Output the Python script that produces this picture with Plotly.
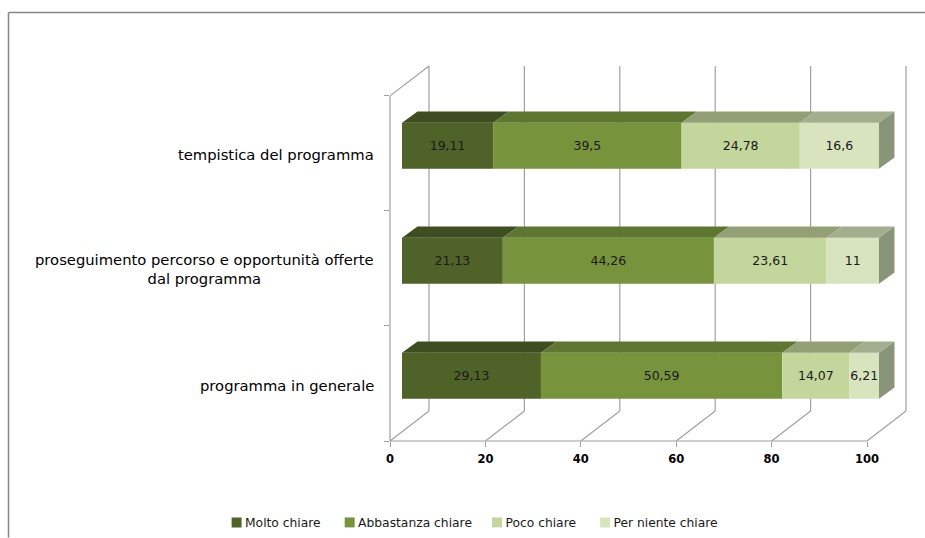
import plotly.graph_objects as go

categories = ["programma in generale",
              "proseguimento percorso e opportunità offerte<br>dal programma",
              "tempistica del programma"]
series_names = ["Molto chiare\u00a0", "Abbastanza chiare", "Poco chiare\u00a0", "Per niente chiare"]
molto = [29.13, 21.13, 19.11]
abbastanza = [50.59, 44.26, 39.5]
poco = [14.07, 23.61, 24.78]
per_niente = [6.21, 11, 16.6]
label_molto = ["29,13", "21,13", "19,11"]
label_abbastanza = ["50,59", "44,26", "39,5"]
label_poco = ["14,07", "23,61", "24,78"]
label_per_niente = ["6,21", "11", "16,6"]
x_ticks = [0, 20, 40, 60, 80, 100]

front_colors = ["#4f6228", "#77933c", "#c3d69b", "#d7e4bd"]
top_colors = ["#3f4e20", "#5f7630", "#93a076", "#a3ae8e"]
side_color = "#8a9478"
wall_color = "#a0a0a0"
FONT = "DejaVu Sans"

W, H = 925, 538
X0, X100, Y3, Y0 = 390, 867, 96, 441.5   # front plane of the 3-D box, in pixels
px_x = (X100 - X0) / 100
px_y = (Y0 - Y3) / 3
x_max = (W - X0) / px_x
y_max = Y0 / px_y
BAR_H = 46 / px_y
wall_dx, wall_dy = 39 / px_x, 30 / px_y
bar_dx, bar_dy = 12 / px_x, 7.7 / px_y
top_dx, top_dy = 15.5 / px_x, 11.3 / px_y

fig = go.Figure()
all_vals = [molto, abbastanza, poco, per_niente]
all_labels = [label_molto, label_abbastanza, label_poco, label_per_niente]
cum = [0.0, 0.0, 0.0]
centres = [i + 0.5 + bar_dy for i in range(3)]

for s, vals in enumerate(all_vals):
    xs, ys = [], []
    for c, v, yc in zip(cum, vals, centres):
        x0, x1 = c + bar_dx, c + v + bar_dx
        yt = yc + BAR_H / 2
        xs += [x0, x1, x1 + top_dx, x0 + top_dx, x0, None]
        ys += [yt, yt, yt + top_dy, yt + top_dy, yt, None]
    fig.add_trace(go.Scatter(x=xs, y=ys, mode="lines", fill="toself", fillcolor=top_colors[s],
                             line=dict(width=0, color=top_colors[s]), showlegend=False,
                             hoverinfo="skip"))
    fig.add_trace(go.Bar(y=centres, x=vals, base=[c + bar_dx for c in cum], orientation="h",
                         width=BAR_H, name=series_names[s],
                         marker=dict(color=front_colors[s], line=dict(width=0)),
                         text=all_labels[s], textposition="inside", insidetextanchor="middle",
                         textangle=0,
                         textfont=dict(family=FONT, size=12.5, color="#1a1a1a")))
    cum = [c + v for c, v in zip(cum, vals)]

xs, ys = [], []
for c, yc in zip(cum, centres):
    x1 = c + bar_dx
    yt, yb = yc + BAR_H / 2, yc - BAR_H / 2
    xs += [x1, x1 + top_dx, x1 + top_dx, x1, x1, None]
    ys += [yt, yt + top_dy, yb + top_dy, yb, yt, None]
fig.add_trace(go.Scatter(x=xs, y=ys, mode="lines", fill="toself", fillcolor=side_color,
                         line=dict(width=0, color=side_color), showlegend=False,
                         hoverinfo="skip"))

fx = lambda p: (p - X0) / (W - X0)
fy = lambda p: (Y0 - p) / Y0
line = dict(color=wall_color, width=1.2)
shapes = []
def seg(x0, y0, x1, y1):
    shapes.append(dict(type="line", xref="paper", yref="paper", layer="below",
                       x0=x0 / x_max, y0=y0 / y_max, x1=x1 / x_max, y1=y1 / y_max, line=line))
for t in x_ticks:
    seg(t, 0, t + wall_dx, wall_dy)
    seg(t + wall_dx, wall_dy, t + wall_dx, 3 + wall_dy)
seg(0, 3, wall_dx, 3 + wall_dy)
seg(0, 0, 0, 3)
seg(0, 0, 100, 0)

frame = dict(color="#868686", width=1.5)
shapes.append(dict(type="line", xref="paper", yref="paper", x0=fx(8.5), x1=fx(8.5), y0=fy(538), y1=fy(12.5), line=frame))
shapes.append(dict(type="line", xref="paper", yref="paper", x0=fx(8.5), x1=fx(925), y0=fy(12.5), y1=fy(12.5), line=frame))

annotations = []
label_offsets = [-2, -1, -1]
for i, cat in enumerate(categories):
    annotations.append(dict(xref="paper", yref="y", x=fx(375.5), y=i + 0.5 + label_offsets[i] / px_y,
                            xanchor="right", yanchor="middle", align="center", showarrow=False,
                            text=cat, font=dict(family=FONT, size=14.75, color="#000000")))

fig.update_layout(
    width=W, height=H, autosize=False, barmode="overlay", showlegend=True,
    margin=dict(l=X0, r=0, t=0, b=H - Y0, pad=0, autoexpand=False),
    paper_bgcolor="white", plot_bgcolor="rgba(0,0,0,0)",
    shapes=shapes, annotations=annotations,
    uniformtext=dict(mode="show", minsize=12.5),
    legend=dict(orientation="h", x=fx(216.5), xanchor="left", y=fy(523), yanchor="middle",
                font=dict(family=FONT, size=12.3, color="#1a1a1a"), traceorder="normal",
                itemwidth=30, indentation=-11.5, bgcolor="rgba(0,0,0,0)"),
    xaxis=dict(range=[0, x_max], tickvals=x_ticks, ticks="outside", ticklen=5, tickcolor=wall_color,
               showgrid=False, zeroline=False, showline=False, ticklabelstandoff=2,
               tickfont=dict(family=FONT, size=11.5, color="#000000", weight="bold")),
    yaxis=dict(range=[0, y_max], tickvals=[0, 1, 2, 3], ticks="outside", ticklen=5, tickcolor=wall_color,
               showticklabels=False, showgrid=False, zeroline=False, showline=False),
)
# Swatches sit tight against their text in the reference: nudge and shrink them.
post = """
document.body.style.margin='0';
setTimeout(function(){
  document.querySelectorAll('g.legendpoints').forEach(function(g){
    var t = g.getAttribute('transform') || '';
    g.setAttribute('transform', t + ' translate(15,0) scale(0.83)');
  });
}, 30);
"""
fig.write_html("out.html", config=dict(displayModeBar=False), post_script=post)
